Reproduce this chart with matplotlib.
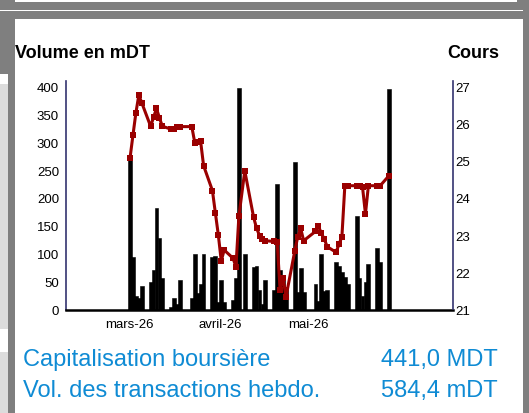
import matplotlib
matplotlib.use("Agg")
import matplotlib.pyplot as plt
import matplotlib.dates as mdates
from matplotlib.patches import Rectangle

plt.rcParams['font.family'] = ['Liberation Sans', 'DejaVu Sans']

# ---- data ----
dates = [
    "2026-03-02", "2026-03-03", "2026-03-04", "2026-03-05", "2026-03-06",
    "2026-03-09", "2026-03-10", "2026-03-11", "2026-03-12", "2026-03-13",
    "2026-03-16", "2026-03-17", "2026-03-18", "2026-03-19",
    "2026-03-23", "2026-03-24", "2026-03-25", "2026-03-26", "2026-03-27",
    "2026-03-30", "2026-03-31", "2026-04-01", "2026-04-02", "2026-04-03",
    "2026-04-06", "2026-04-07", "2026-04-08", "2026-04-10",
    "2026-04-13", "2026-04-14", "2026-04-15", "2026-04-16", "2026-04-17",
    "2026-04-20", "2026-04-21", "2026-04-22", "2026-04-23", "2026-04-24",
    "2026-04-27", "2026-04-28", "2026-04-29", "2026-04-30",
    "2026-05-04", "2026-05-05", "2026-05-06", "2026-05-07", "2026-05-08",
    "2026-05-11", "2026-05-12", "2026-05-13", "2026-05-14", "2026-05-15",
    "2026-05-18", "2026-05-19", "2026-05-20", "2026-05-21", "2026-05-22",
    "2026-05-25", "2026-05-26", "2026-05-29",
]
volume = [
    270, 95, 24, 20, 42,
    49, 70, 182, 128, 56,
    4, 21, 10, 53,
    20, 100, 30, 46, 100,
    94, 96, 13, 53, 13,
    17, 56, 398, 100,
    76, 78, 35, 10, 53,
    35, 225, 70, 55, 40,
    264, 31, 74, 31,
    45, 16, 100, 33, 35,
    85, 78, 68, 58, 45,
    168, 56, 24, 49, 82,
    110, 86, 395,
]
cours = [
    25.07, 25.69, 26.29, 26.77, 26.56,
    25.93, 26.17, 26.41, 26.15, 25.93,
    25.85, 25.85, 25.92, 25.92,
    25.92, 25.49, 25.50, 25.52, 24.87,
    24.20, 23.60, 23.01, 22.31, 22.60,
    22.38, 22.15, 23.51, 24.73,
    23.48, 23.19, 22.99, 22.90, 22.85,
    22.83, 22.82, 21.52, 21.85, 21.34,
    22.58, 22.96, 23.18, 22.85,
    23.10, 23.25, 23.05, 22.90, 22.69,
    22.54, 22.75, 22.96, 24.33, 24.33,
    24.33, 24.33, 24.30, 23.57, 24.33,
    24.33, 24.33, 24.60,
]
month_ticks = ["2026-03-01", "2026-04-01", "2026-05-01"]
month_labels = ["mars-26", "avril-26", "mai-26"]
vol_ticks = [0, 50, 100, 150, 200, 250, 300, 350, 400]
cours_ticks = [21, 22, 23, 24, 25, 26, 27]
info_labels = ["Capitalisation boursière", "Vol. des transactions hebdo."]
info_values = ["441,0 MDT", "584,4 mDT"]

W, H = 529, 414
fig = plt.figure(figsize=(W / 100, H / 100), dpi=100)
fig.patch.set_facecolor("white")

def rect(x0, y0, x1, y1, color):
    fig.patches.append(Rectangle((x0 / W, 1 - y1 / H), (x1 - x0) / W, (y1 - y0) / H,
                                 transform=fig.transFigure, facecolor=color,
                                 edgecolor="none", zorder=0))

gray = "#7f7f7f"
light = "#dcdcdc"
rect(0, 0, W, 20, gray)
rect(15, 0, 517, 3, "white")
rect(0, 11, W, 12.2, "white")
rect(0, 20, 15, 75, gray)
rect(0, 75, 8, 85, "white")
rect(0, 85, 8, 330, light)
rect(0, 353, 8, H, light)
rect(8, 20, 15, H, gray)
rect(523, 0, W, H, gray)

x = mdates.datestr2num(dates)
ref = mdates.datestr2num("2026-03-02")

ax = fig.add_axes([66 / W, (H - 310.5) / H, 387 / W, 228.6 / H])
ax.set_facecolor("none")
ax.bar(x, volume, width=1.3, color="black", edgecolor="black", linewidth=0.4, zorder=2)
ax.set_xlim(ref - 21.75, ref + 109.75)
ax.set_ylim(0, 410)
ax.set_yticks(vol_ticks)
ax.set_yticklabels([str(v) for v in vol_ticks])
ax.set_xticks(mdates.datestr2num(month_ticks) + 0.7)
ax.set_xticklabels(month_labels)
ax.tick_params(axis="both", length=0, labelsize=9.5, colors="black")
ax.tick_params(axis="y", pad=5)
ax.tick_params(axis="x", pad=6)
for s in ["top", "right"]:
    ax.spines[s].set_visible(False)
ax.spines["left"].set_color("#333370")
ax.spines["left"].set_linewidth(1.2)
ax.spines["bottom"].set_color("black")
ax.spines["bottom"].set_linewidth(1.8)

ax2 = ax.twinx()
ax2.plot(x, cours, color="#9a0000", linewidth=2.2, marker="s", markersize=4.2,
         markeredgewidth=0, zorder=3)
ax2.set_ylim(21, 27.15)
ax2.set_yticks(cours_ticks)
ax2.set_yticklabels([str(v) for v in cours_ticks])
ax2.tick_params(axis="y", length=0, labelsize=9.5, pad=2, colors="black")
for s in ["top", "left", "bottom"]:
    ax2.spines[s].set_visible(False)
ax2.spines["right"].set_color("#333370")
ax2.spines["right"].set_linewidth(1.2)

fig.text(15 / W, 1 - 54 / H, "Volume en mDT", fontsize=13, fontweight="bold",
         ha="left", va="center")
fig.text(499 / W, 1 - 54 / H, "Cours", fontsize=13, fontweight="bold",
         ha="right", va="center")

blue = "#0f8bd4"
for i, (lab, val) in enumerate(zip(info_labels, info_values)):
    yy = 1 - (366 + i * 31.5) / H
    fig.text(23 / W, yy, lab, fontsize=17, color=blue, ha="left", va="baseline")
    fig.text(498 / W, yy, val, fontsize=17, color=blue, ha="right", va="baseline")

fig.savefig("out.png", dpi=100)
